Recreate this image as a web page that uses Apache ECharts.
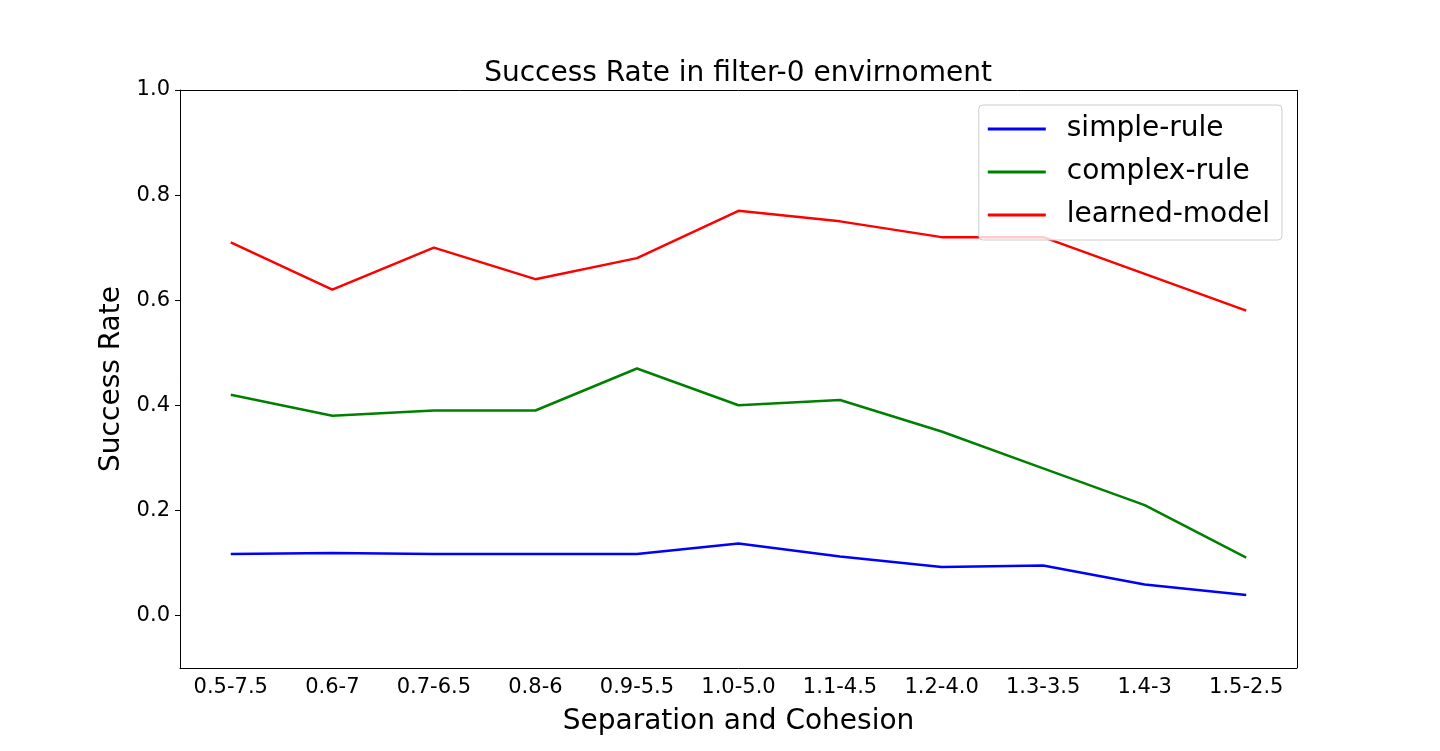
<!DOCTYPE html>
<html><head><meta charset="utf-8">
<script src="https://cdn.jsdelivr.net/npm/echarts@6/dist/echarts.min.js"></script>
<style>html,body{margin:0;padding:0;background:#fff}#c{width:1440px;height:751px}</style>
</head><body><div id="c"></div>
<script>
const categories = ['0.5-7.5','0.6-7','0.7-6.5','0.8-6','0.9-5.5','1.0-5.0','1.1-4.5','1.2-4.0','1.3-3.5','1.4-3','1.5-2.5'];
const simpleRule = [0.117,0.119,0.117,0.117,0.117,0.137,0.112,0.092,0.095,0.059,0.039];
const complexRule = [0.42,0.38,0.39,0.39,0.47,0.40,0.41,0.35,0.28,0.21,0.11];
const learnedModel = [0.71,0.62,0.70,0.64,0.68,0.77,0.75,0.72,0.72,0.65,0.58];
const yTicks = [0.0,0.2,0.4,0.6,0.8,1.0];

const F = 'DejaVu Sans';
const chart = echarts.init(document.getElementById('c'));
chart.setOption({
  animation:false,
  textStyle:{fontFamily:F},
  title:{text:'Success Rate in filter-0 envirnoment',left:733,top:55,textAlign:'center',
    textStyle:{fontFamily:F,fontSize:28,fontWeight:'normal',color:'#000'}},
  grid:{left:180,right:143,top:90,bottom:83},
  legend:{orient:'vertical',right:158,top:105,itemWidth:58,itemHeight:3,itemGap:15,
    backgroundColor:'rgba(255,255,255,0.8)',borderColor:'#ccc',borderWidth:1,borderRadius:4,
    padding:[10,12,11,9],icon:'rect',
    textStyle:{fontFamily:F,fontSize:28,color:'#000',padding:[0,0,0,16]},
    data:['simple-rule','complex-rule','learned-model']},
  xAxis:{type:'category',data:categories,boundaryGap:true,
    name:'Separation and Cohesion',nameLocation:'middle',nameGap:40,
    nameTextStyle:{fontFamily:F,fontSize:28,color:'#000'},
    axisLine:{onZero:false,lineStyle:{color:'#000',width:1}},
    axisTick:{alignWithLabel:true,length:5,lineStyle:{color:'#000'}},
    axisLabel:{fontFamily:F,fontSize:21,color:'#000',margin:9},
    splitLine:{show:false}},
  yAxis:{type:'value',min:-0.1,max:1.0,
    name:'Success Rate',nameLocation:'middle',nameGap:52,
    nameTextStyle:{fontFamily:F,fontSize:28,color:'#000'},
    axisLine:{show:true,lineStyle:{color:'#000',width:1}},
    axisTick:{show:true,length:5,lineStyle:{color:'#000'},customValues:yTicks},
    axisLabel:{fontFamily:F,fontSize:21,color:'#000',margin:10,customValues:yTicks,
      formatter:v=>v.toFixed(1)},
    splitLine:{show:false}},
  series:[
    {name:'simple-rule',type:'line',data:simpleRule,showSymbol:false,symbol:'none',
      lineStyle:{color:'#0000ff',width:2.5},itemStyle:{color:'#0000ff'},z:2},
    {name:'complex-rule',type:'line',data:complexRule,showSymbol:false,symbol:'none',
      lineStyle:{color:'#008000',width:2.5},itemStyle:{color:'#008000'},z:2},
    {name:'learned-model',type:'line',data:learnedModel,showSymbol:false,symbol:'none',
      lineStyle:{color:'#ff0000',width:2.5},itemStyle:{color:'#ff0000'},z:2},
    {type:'line',data:[],markLine:{silent:true,symbol:'none',label:{show:false},
      lineStyle:{color:'#000',width:1,type:'solid'},
      data:[[{x:1297,y:90},{x:1297,y:668}],[{x:180,y:90},{x:1297,y:90}]]}}
  ]
});
</script></body></html>
